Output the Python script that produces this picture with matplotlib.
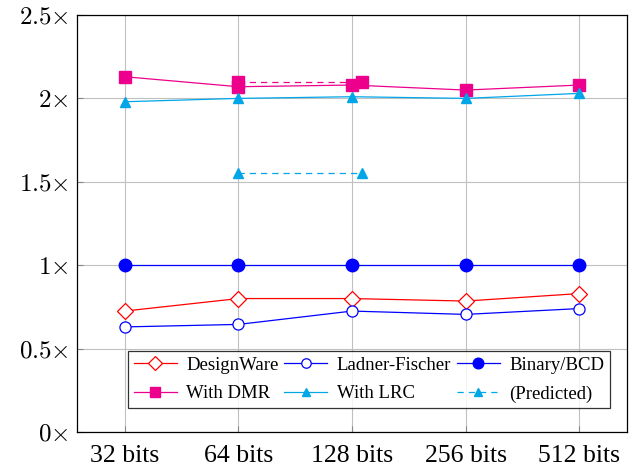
import numpy as np
import matplotlib.pyplot as plt

plt.rcParams['font.family'] = ['Liberation Serif', 'DejaVu Serif']
plt.rcParams['mathtext.fontset'] = 'cm'

categories = ['32 bits', '64 bits', '128 bits', '256 bits', '512 bits']
designware = [0.725, 0.80, 0.80, 0.785, 0.83]
ladner = [0.63, 0.645, 0.725, 0.705, 0.74]
binary_bcd = [1.0, 1.0, 1.0, 1.0, 1.0]
with_dmr = [2.13, 2.07, 2.08, 2.05, 2.08]
with_lrc = [1.98, 2.00, 2.01, 2.00, 2.03]
# predicted points (x as category index)
pred_x = [1, 2.09]
pred_dmr = [2.10, 2.10]
pred_lrc = [1.55, 1.55]
yticks = [0, 0.5, 1, 1.5, 2, 2.5]
ytick_labels = [r'$0{\times}$', r'$0.5{\times}$', r'$1{\times}$', r'$1.5{\times}$', r'$2{\times}$', r'$2.5{\times}$']

red = '#ff0000'
blue = '#0000ff'
magenta = '#ec008c'
cyan = '#00a6e8'

fig = plt.figure(figsize=(6.41, 4.68), dpi=100)
ax = fig.add_axes([77/641, 36/468, 550/641, 417/468])
x = np.arange(len(categories))

h_dw, = ax.plot(x, designware, color=red, lw=0.9, marker='D', ms=8, mfc='white', mec=red, mew=0.9, label='DesignWare')
h_lf, = ax.plot(x, ladner, color=blue, lw=0.9, marker='o', ms=8, mfc='white', mec=blue, mew=0.9, label='Ladner-Fischer')
h_bb, = ax.plot(x, binary_bcd, color=blue, lw=0.9, marker='o', ms=9, mfc=blue, mec=blue, label='Binary/BCD')
h_dmr, = ax.plot(x, with_dmr, color=magenta, lw=0.9, marker='s', ms=8, mfc=magenta, mec=magenta, label='With DMR')
h_lrc, = ax.plot(x, with_lrc, color=cyan, lw=0.9, marker='^', ms=7, mfc=cyan, mec=cyan, label='With LRC')
ax.plot(pred_x, pred_dmr, color=magenta, lw=0.9, ls=(0, (5, 4)), marker='s', ms=8, mfc=magenta, mec=magenta)
h_pr, = ax.plot(pred_x, pred_lrc, color=cyan, lw=0.9, ls=(0, (5, 4)), marker='^', ms=7, mfc=cyan, mec=cyan, label='(Predicted)')

ax.set_xlim(-0.42, 4.42)
ax.set_ylim(0, 2.5)
ax.set_xticks(x)
ax.set_xticklabels(categories, fontsize=18.5)
ax.set_yticks(yticks)
ax.set_yticklabels(ytick_labels, fontsize=18)
ax.tick_params(direction='in', length=4, color='#888888', pad=6)
ax.tick_params(axis='x', pad=9)
ax.grid(True, color='#c0c0c0', lw=0.8)
ax.set_axisbelow(True)
for s in ax.spines.values():
    s.set_linewidth(0.9)

handles = [h_dw, h_dmr, h_lf, h_lrc, h_bb, h_pr]
leg = ax.legend(handles=handles, ncol=3, loc='lower right', bbox_to_anchor=(0.969, 0.057),
                borderaxespad=0, fontsize=13.5, frameon=True, fancybox=False, edgecolor='black',
                handlelength=2.3, columnspacing=0.3, handletextpad=0.5, borderpad=0.3,
                labelspacing=0.6, markerscale=0.85)
leg.get_frame().set_linewidth(0.9)

fig.savefig('out.png', dpi=100)
